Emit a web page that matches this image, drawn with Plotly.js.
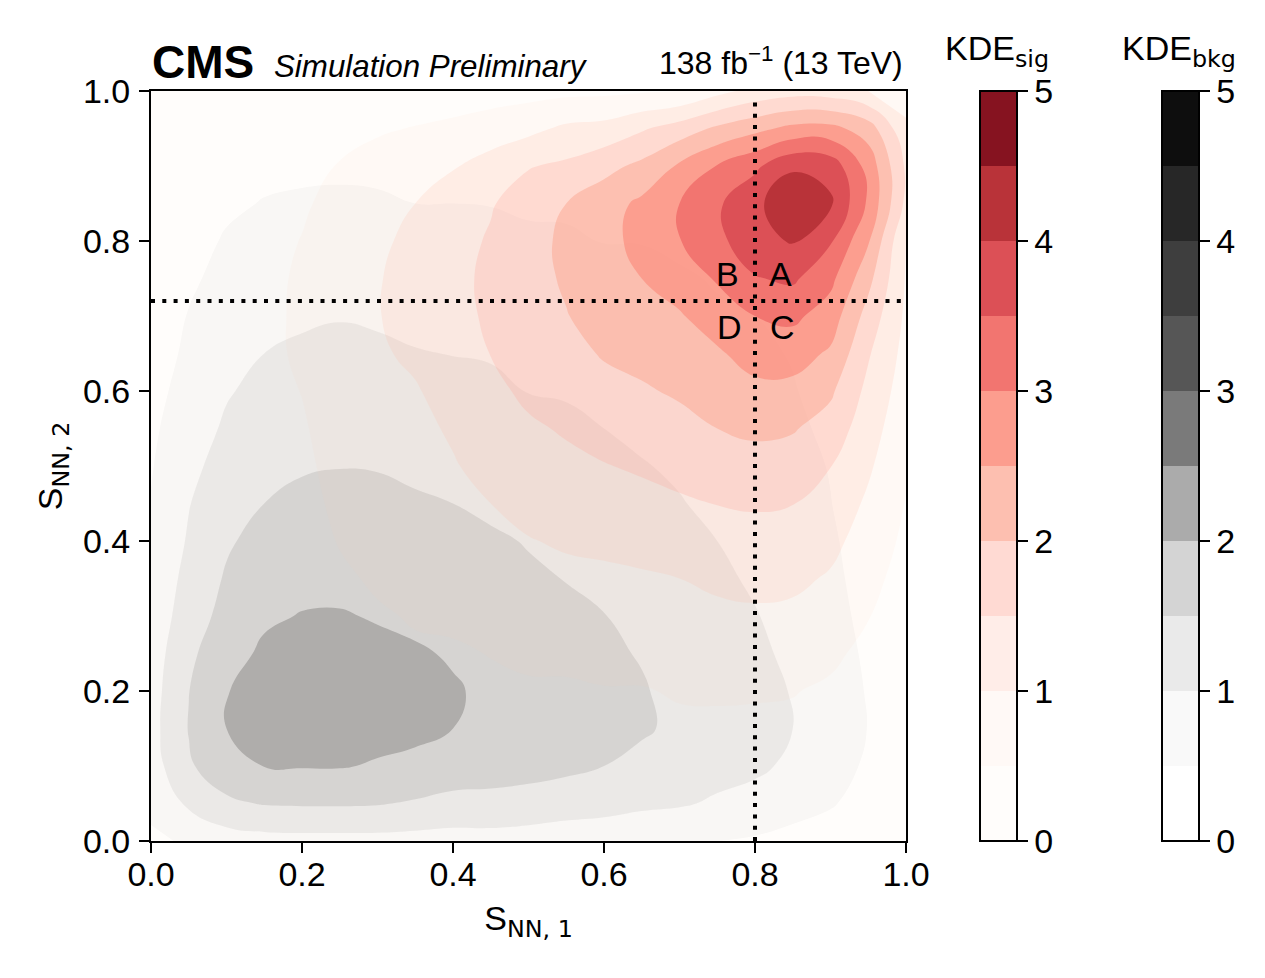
<!DOCTYPE html>
<html><head><meta charset="utf-8">
<script src="https://cdn.plot.ly/plotly-3.0.1.min.js"></script>
<style>html,body{margin:0;padding:0;background:#fff}</style></head>
<body><div id="chart" style="width:1265px;height:978px"></div>
<script>
// Grid of the two score axes
const gridX = [0,.05,.1,.15,.2,.25,.3,.35,.4,.45,.5,.55,.6,.65,.7,.75,.8,.85,.9,.95,1];
const gridY = [0,.05,.1,.15,.2,.25,.3,.35,.4,.45,.5,.55,.6,.65,.7,.75,.8,.85,.9,.95,1];

// Background density, one list per gridX value, bottom to top
const bkgColumns = [
[.41,.62,.77,.83,.80,.75,.66,.6,.55,.52,.47,.42,.37,.32,.27,.22,.17,.12,.08,.05,.03],
[.56,1.08,1.44,1.52,1.49,1.4,1.27,1.16,1.05,.98,.87,.76,.65,.57,.52,.42,.35,.27,.2,.13,.08],
[.76,1.41,1.8,2.0,1.98,1.82,1.65,1.55,1.44,1.32,1.2,1.07,.96,.85,.75,.65,.54,.43,.32,.22,.13],
[.83,1.53,2.01,2.15,2.2,2.08,1.93,1.8,1.66,1.5,1.39,1.26,1.13,1.0,.88,.76,.64,.52,.4,.28,.17],
[.85,1.55,2.03,2.23,2.28,2.22,2.02,1.87,1.73,1.6,1.46,1.33,1.2,1.07,.94,.81,.68,.55,.43,.31,.2],
[.85,1.55,2.03,2.22,2.27,2.2,2.03,1.88,1.76,1.62,1.49,1.37,1.23,1.1,.98,.84,.7,.56,.44,.32,.2],
[.85,1.53,1.96,2.15,2.18,2.1,1.97,1.85,1.73,1.6,1.48,1.35,1.2,1.07,.95,.82,.68,.55,.42,.3,.19],
[.83,1.45,1.9,2.1,2.12,2.06,1.88,1.77,1.66,1.55,1.42,1.28,1.15,1.02,.9,.77,.64,.5,.38,.27,.17],
[.8,1.37,1.75,2.0,2.05,1.95,1.83,1.72,1.61,1.5,1.38,1.25,1.13,.99,.87,.74,.62,.5,.38,.26,.16],
[.8,1.38,1.68,1.83,1.9,1.85,1.76,1.65,1.55,1.43,1.33,1.2,1.08,.97,.85,.73,.6,.49,.37,.25,.15],
[.78,1.3,1.68,1.79,1.82,1.73,1.66,1.55,1.48,1.36,1.24,1.12,.99,.88,.78,.67,.56,.45,.34,.23,.13],
[.76,1.2,1.62,1.7,1.72,1.65,1.57,1.49,1.38,1.29,1.18,1.07,.97,.87,.77,.66,.55,.44,.33,.22,.13],
[.74,1.15,1.5,1.62,1.63,1.58,1.51,1.41,1.3,1.2,1.1,1.0,.9,.8,.7,.6,.49,.4,.3,.2,.12],
[.68,1.08,1.37,1.56,1.54,1.47,1.38,1.29,1.2,1.11,1.02,.93,.84,.75,.67,.58,.49,.4,.31,.2,.12],
[.63,1.04,1.25,1.4,1.36,1.29,1.22,1.15,1.09,1.02,.95,.86,.78,.7,.61,.53,.45,.37,.29,.2,.11],
[.5,.95,1.13,1.22,1.24,1.19,1.12,1.07,1.0,.92,.84,.77,.69,.6,.53,.48,.4,.33,.26,.18,.1],
[.44,.87,1.07,1.13,1.13,1.07,1.02,.95,.89,.82,.76,.69,.63,.56,.5,.44,.37,.3,.23,.16,.09],
[.35,.68,.93,1.0,.98,.93,.87,.81,.76,.7,.63,.57,.52,.48,.43,.37,.31,.25,.2,.14,.08],
[.22,.55,.7,.75,.73,.7,.65,.6,.56,.51,.48,.43,.38,.34,.3,.26,.22,.18,.14,.1,.06],
[.1,.28,.43,.49,.47,.43,.38,.34,.3,.27,.25,.22,.19,.17,.15,.13,.11,.09,.07,.05,.03],
[.02,.08,.12,.15,.14,.12,.1,.09,.08,.07,.06,.05,.05,.04,.04,.03,.03,.02,.02,.02,.01]
];

// Signal density, same layout
const sigColumns = [
[.02,.03,.04,.05,.05,.06,.07,.07,.08,.09,.1,.11,.12,.13,.14,.15,.16,.17,.18,.17,.12],
[.03,.05,.06,.07,.08,.09,.1,.11,.13,.14,.16,.18,.2,.22,.24,.26,.28,.3,.33,.3,.2],
[.04,.06,.08,.1,.12,.14,.16,.19,.21,.24,.26,.28,.3,.32,.34,.36,.38,.4,.42,.38,.26],
[.05,.08,.1,.13,.15,.17,.2,.22,.25,.28,.31,.34,.37,.39,.4,.41,.4,.37,.33,.27,.18],
[.06,.09,.13,.16,.2,.23,.27,.3,.34,.38,.42,.46,.51,.57,.57,.55,.51,.46,.38,.28,.15],
[.08,.12,.16,.2,.25,.3,.37,.44,.52,.58,.63,.68,.73,.77,.78,.76,.7,.6,.52,.38,.18],
[.1,.15,.2,.26,.33,.4,.46,.55,.65,.72,.79,.86,.9,.95,.98,.97,.91,.83,.66,.45,.2],
[.12,.17,.23,.3,.38,.45,.53,.6,.7,.78,.84,.9,.97,1.07,1.16,1.17,1.12,1.0,.82,.52,.24],
[.14,.2,.27,.34,.4,.46,.56,.66,.76,.84,.97,1.05,1.15,1.25,1.34,1.37,1.33,1.17,.97,.6,.26],
[.15,.22,.3,.38,.44,.51,.63,.75,.87,1.0,1.13,1.26,1.38,1.51,1.58,1.6,1.55,1.46,1.19,.74,.28],
[.16,.24,.32,.4,.45,.57,.71,.85,.98,1.13,1.28,1.43,1.6,1.7,1.78,1.83,1.84,1.74,1.47,.87,.33],
[.18,.26,.34,.42,.44,.6,.75,.9,1.05,1.22,1.39,1.55,1.71,1.85,1.98,2.06,2.09,2.0,1.59,1.09,.38],
[.18,.26,.36,.44,.48,.62,.77,.92,1.09,1.29,1.48,1.67,1.85,2.04,2.2,2.32,2.36,2.29,1.84,1.16,.4],
[.18,.27,.37,.45,.48,.63,.8,.95,1.15,1.36,1.56,1.75,1.95,2.13,2.32,2.5,2.63,2.6,2.12,1.44,.45],
[.16,.25,.36,.44,.53,.7,.85,1.0,1.22,1.44,1.65,1.86,2.06,2.26,2.46,2.71,2.98,3.0,2.57,1.73,.5],
[.12,.22,.34,.44,.54,.72,.9,1.09,1.3,1.51,1.75,2.0,2.22,2.44,2.73,3.05,3.38,3.43,3.02,2.09,.85],
[.08,.18,.32,.44,.53,.73,.93,1.13,1.33,1.55,1.82,2.09,2.38,2.69,3.0,3.47,3.8,3.87,3.4,2.36,1.15],
[.05,.14,.28,.41,.52,.7,.9,1.1,1.3,1.51,1.77,2.04,2.36,2.71,3.11,3.58,4.05,4.4,3.92,2.63,1.3],
[.03,.09,.2,.33,.43,.59,.76,.95,1.13,1.32,1.51,1.79,2.08,2.43,2.76,3.13,3.55,4.08,3.8,2.65,1.25],
[.01,.04,.09,.16,.25,.38,.52,.66,.79,.92,1.07,1.22,1.37,1.55,1.81,2.15,2.55,2.92,2.82,2.26,1.0],
[0,.01,.03,.05,.08,.12,.2,.3,.4,.48,.57,.66,.76,.84,.91,.96,.98,1.38,1.42,1.1,.75]
];

// Region boundaries
const cutX = [.8,.8];
const cutXSpan = [0,.987];
const cutY = [.72,.72];
const cutYSpan = [0,1];
const regionLabels = ['A','B','C','D'];
const regionX = [.834,.764,.836,.766];
const regionY = [.756,.756,.685,.685];

// Band colours, lowest band first
const bkgBands = ['#ffffff','#f9f9f9','#eaeaea','#d4d4d4','#ababab','#7a7a7a','#565656','#3e3e3e','#272727','#0e0e0e'];
const sigBandsOpaque = ['#fffdfb','#fff9f6','#ffede8','#ffdad3','#fdbfb0','#fc9d8e','#f27570','#dc5056','#b93339','#861320'];
// Plotly paints the bands on top of each other, so these are the layer colours
const sigBandsLayered = ['rgba(255,222,188,.06)','rgba(255,200,184,.075)','rgba(255,182,160,.18)','rgba(255,167,154,.27)',
  'rgba(251,164,141,.47)','rgba(251,142,127,.68)','#f27570','#dc5056','#b93339','#861320'];

const FONT = 'Liberation Sans, Arial, sans-serif';
const SUBFONT = 'DejaVu Sans';
const TEXT = {family: FONT, size: 34, color: '#000'};
const toRows = cols => gridY.map((_, j) => cols.map(c => c[j]));
const scale = bands => bands.map((c, k) => [k / (bands.length - 1), c]);
const sub = t => `<sub><span style="font-family:${SUBFONT}">${t}</span></sub>`;

const contourBase = {
  type: 'contour', x: gridX, y: gridY, autocontour: false, hoverinfo: 'skip',
  contours: {start: .5, end: 4.5, size: .5, coloring: 'fill', showlines: false},
  line: {width: 0, smoothing: 1.3}, zmin: 0, zmax: 5
};
const bar = px => ({
  x: (px - 151) / 755, xanchor: 'left', xpad: 0, y: .5, yanchor: 'middle', ypad: 0, len: 1, thickness: 37,
  outlinewidth: 2, outlinecolor: '#000', ticks: 'outside', ticklen: 10, tickwidth: 2, tickcolor: '#000',
  tick0: 0, dtick: 1, tickfont: TEXT
});

const data = [
  Object.assign({}, contourBase, {z: toRows(bkgColumns), colorscale: scale(bkgBands), colorbar: bar(1162)}),
  Object.assign({}, contourBase, {z: toRows(sigColumns), colorscale: scale(sigBandsLayered), showscale: false}),
  Object.assign({}, contourBase, {z: toRows(sigColumns), colorscale: scale(sigBandsOpaque), opacity: 0, colorbar: bar(980)}),
  {type: 'scatter', mode: 'lines', x: cutX, y: cutXSpan, hoverinfo: 'skip', showlegend: false, line: {color: '#000', width: 4, dash: '4px,7.3px'}},
  {type: 'scatter', mode: 'lines', x: cutYSpan, y: cutY, hoverinfo: 'skip', showlegend: false, line: {color: '#000', width: 4, dash: '4px,7.3px'}}
];

const axis = (title, labelShift, titleGap) => ({
  range: [0, 1], dtick: .2, tick0: 0, tickformat: '.1f', showgrid: false, zeroline: false,
  ticks: 'outside', ticklen: 10, tickwidth: 2, tickcolor: '#000', linecolor: '#000', linewidth: 2, mirror: true,
  ticklabelstandoff: labelShift, tickfont: TEXT, title: {text: title, font: TEXT, standoff: titleGap}
});

const annotations = regionLabels.map((t, i) => ({
  text: t, x: regionX[i], y: regionY[i], xref: 'x', yref: 'y', showarrow: false, font: TEXT
}));
const paperText = (text, x, yPx, anchor, font) => ({
  text, x, y: (841 - yPx) / 750, xref: 'paper', yref: 'paper', xanchor: anchor, yanchor: 'bottom', showarrow: false, font, borderpad: 0
});
annotations.push(
  paperText('<b>CMS</b>', 0, 89, 'left', {family: FONT, size: 46, color: '#000'}),
  paperText('<i>Simulation Preliminary</i>', (273 - 151) / 755, 85, 'left', {family: FONT, size: 31.3, color: '#000'}),
  paperText('138 fb<sup>−1</sup> (13 TeV)', (904 - 151) / 755, 82, 'right', {family: FONT, size: 32, color: '#000'}),
  paperText('KDE' + sub('sig'), (997 - 151) / 755, 74, 'center', TEXT),
  paperText('KDE' + sub('bkg'), (1179 - 151) / 755, 74, 'center', TEXT)
);

Plotly.newPlot('chart', data, {
  width: 1265, height: 978, autosize: false, showlegend: false,
  margin: {l: 151, r: 359, t: 91, b: 137, pad: 0}, paper_bgcolor: '#fff', plot_bgcolor: '#fff',
  xaxis: axis('S' + sub('NN, 1'), -8, 14), yaxis: axis('S' + sub('NN, 2'), 2, 10),
  annotations
}, {displayModeBar: false, staticPlot: true});
</script></body></html>
